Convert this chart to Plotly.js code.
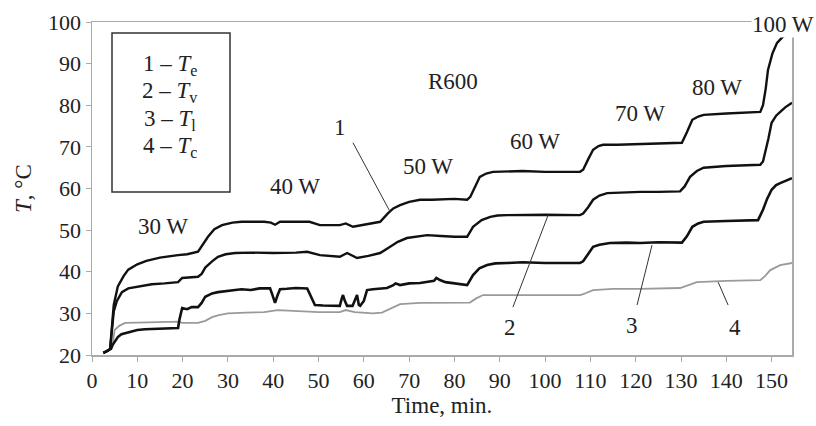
<!DOCTYPE html>
<html>
<head>
<meta charset="utf-8">
<script src="https://cdn.plot.ly/plotly-3.0.1.min.js"></script>
<style>html,body{margin:0;padding:0;background:#fff;}#chart{width:816px;height:426px;}</style>
</head>
<body>
<div id="chart"></div>
<script>
// Curve 1 – Te
const t1x = [2.5, 3.5, 4.0, 4.4, 4.8, 5.7, 7, 8, 10, 12, 15, 19, 21, 23.4, 24.5, 25.6, 27, 28.7, 31, 33, 38, 39.5, 40.4, 41.5, 45, 48, 50.3, 54.7, 56, 57.6, 60, 63.6, 65.3, 66.5, 68, 70, 72.4, 75, 80, 82.8, 83.5, 84.5, 85.6, 87, 88.5, 95, 100, 107.7, 108.4, 109.5, 110.6, 111.8, 112.8, 116, 121, 125, 130.2, 131.3, 132.5, 133.8, 135, 140, 147.5, 148.1, 148.7, 149.2, 150.2, 151.2, 152.5, 154, 154.5];
const t1y = [20.5, 21, 21.5, 27, 32, 36.5, 39, 40.5, 41.8, 42.6, 43.4, 44, 44.2, 44.8, 46.5, 48.4, 50.2, 51.2, 51.8, 52, 52, 51.8, 51.3, 52, 52, 52, 51.2, 51.2, 51.6, 50.8, 51.3, 52, 54, 55.2, 56, 56.8, 57.3, 57.3, 57.5, 57.3, 58, 60.5, 62.8, 63.6, 64, 64.2, 64, 64, 64.5, 67, 69.3, 70.2, 70.5, 70.5, 70.7, 70.8, 71, 73.5, 76.5, 77.3, 77.7, 78, 78.4, 80, 84, 88.5, 92.5, 95, 96.5, 97.3, 97.5];
// Curve 2 – Tv
const t2x = [2.5, 3.5, 4.0, 4.4, 4.8, 5.5, 6.6, 8, 9.5, 11, 13.2, 16, 19, 19.9, 21, 23.4, 24.2, 25, 26.5, 27.8, 29.5, 31.6, 35, 40, 45, 47.5, 50.3, 54.7, 56.3, 58.5, 61, 63.6, 65.8, 67.5, 69.5, 72, 74, 77, 80, 82.8, 84.1, 86, 87.9, 89.5, 91.6, 100, 107.7, 108.4, 109.5, 110.6, 112, 113.7, 116, 121, 125, 129.8, 130.8, 132, 133.5, 135, 140, 147.5, 148.1, 148.6, 149.3, 150, 151, 151.9, 153, 154.5];
const t2y = [20.5, 21, 21.5, 26, 30.5, 33, 35.1, 36, 36.3, 36.7, 37, 37.2, 37.5, 38.5, 38.6, 38.8, 39.5, 41, 42.5, 43.6, 44.2, 44.5, 44.6, 44.5, 44.6, 44.8, 44, 43.6, 44.5, 43.3, 43.8, 44.5, 46, 47.2, 48.1, 48.5, 48.8, 48.6, 48.4, 48.4, 50.8, 52.4, 53.2, 53.5, 53.6, 53.7, 53.6, 54, 55.5, 57.3, 58.3, 58.9, 59, 59.2, 59.2, 59.3, 60.5, 62.8, 64.2, 65, 65.4, 65.7, 66.5, 68.6, 72, 75.8, 77.5, 78.4, 79.5, 80.6];
// Curve 3 – Tl
const t3x = [2.5, 3.5, 4.2, 4.6, 5.0, 5.7, 6.5, 8, 10, 11.7, 15, 19, 19.3, 19.6, 19.9, 21, 22, 23.4, 24.2, 25, 26.5, 27.8, 29.5, 31.6, 33, 35, 37, 39.3, 39.8, 40.4, 41, 41.5, 43, 45, 47.5, 48.3, 49.2, 51, 53, 54.7, 55.1, 55.4, 55.8, 56.3, 57.5, 58.2, 58.5, 58.9, 59.2, 60, 60.7, 62, 63.5, 65.1, 66.4, 67, 68, 70, 72.4, 74, 75.5, 76, 76.8, 78, 80, 82.8, 84.1, 85.5, 87.2, 89, 91.6, 95, 100, 105, 107.7, 108.4, 109.5, 110.6, 112, 114.3, 118, 121, 125, 130.2, 131.3, 132.5, 133.8, 135, 140, 145, 147, 148.1, 149, 150, 151, 151.9, 153, 154.5];
const t3y = [20.5, 21, 21.5, 22.5, 23.2, 24.3, 25, 25.5, 26, 26.2, 26.4, 26.5, 28.5, 30, 31.3, 31, 31.5, 31.5, 32.5, 34, 34.8, 35.1, 35.4, 35.6, 35.8, 35.6, 36, 36, 34.5, 32.5, 34.5, 35.8, 35.9, 36.1, 36, 34, 32, 31.9, 31.8, 31.8, 33.5, 34.4, 33, 31.8, 31.8, 33.5, 34.4, 32, 31.8, 33, 35.6, 35.8, 36, 36.1, 36.7, 37.2, 36.8, 37.2, 37.3, 37.5, 37.8, 38.5, 38, 37.5, 37.2, 36.8, 39.2, 40.8, 41.6, 42, 42.1, 42.3, 42.1, 42.2, 42.1, 42.5, 44.2, 46, 46.5, 46.9, 47, 46.9, 47.1, 47, 48.5, 50.8, 51.6, 52, 52.2, 52.4, 52.4, 54.9, 57.5, 59.7, 60.8, 61.3, 61.8, 62.5];
// Curve 4 – Tc
const t4x = [2.5, 3.5, 4.2, 4.6, 5.0, 6, 7.3, 10, 13.2, 19, 19.9, 23.4, 25, 26.5, 28, 30, 34, 38, 41, 45, 50, 54.7, 56, 58, 60, 62, 64, 66.4, 68, 72.4, 78, 83.4, 84.8, 86.3, 95, 107.7, 108.4, 109.5, 110.6, 115, 121, 129.8, 131.5, 133.5, 140, 147.5, 148.6, 149.7, 151.9, 154.5];
const t4y = [20.5, 21, 21.5, 23, 26, 27, 27.7, 27.8, 27.9, 28, 27.7, 27.7, 28.2, 29.1, 29.6, 30, 30.2, 30.3, 30.8, 30.5, 30.3, 30.3, 30.8, 30.3, 30.2, 30, 30.2, 31.5, 32.2, 32.5, 32.6, 32.6, 33.6, 34.4, 34.4, 34.4, 34.6, 35.2, 35.6, 35.9, 35.9, 36.1, 36.8, 37.5, 37.8, 38, 39, 40.4, 41.6, 42.1];

const legendLines = ["1 – <i>T</i><sub>e</sub>", "2 – <i>T</i><sub>v</sub>", "3 – <i>T</i><sub>l</sub>", "4 – <i>T</i><sub>c</sub>"];
const powerLabels = ["30 W", "40 W", "50 W", "60 W", "70 W", "80 W", "100 W"];
const powerX = [15.7, 44.8, 74.2, 97.8, 121, 138, 152.5];
const powerY = [50.8, 60.4, 65.2, 71.2, 77.9, 84.2, 99.5];
const curveIds = ["1", "2", "3", "4"];
const curveLabelX = [54.7, 92.3, 119.2, 141.9];
const curveLabelY = [74.6, 26.5, 27.2, 26.7];
const leaderX0 = [57.6, 92.9, 120.3, 140.4];
const leaderY0 = [71, 31.5, 32, 32];
const leaderX1 = [65.8, 100.7, 123.6, 138.2];
const leaderY1 = [54.4, 53.7, 46.4, 37.5];

const FONT = "'Liberation Serif', 'Times New Roman', serif";
const TXT = "#222";
const traces = [
  {x: t4x, y: t4y, mode: "lines", line: {color: "#9a9a9a", width: 1.8}},
  {x: t3x, y: t3y, mode: "lines", line: {color: "#111", width: 2.6}},
  {x: t2x, y: t2y, mode: "lines", line: {color: "#111", width: 2.4}},
  {x: t1x, y: t1y, mode: "lines", line: {color: "#111", width: 2.4}}
];

const annotations = [];
powerLabels.forEach((t, i) => {
  const a = {x: powerX[i], y: powerY[i], xref: "x", yref: "y", text: t, showarrow: false,
    xanchor: "center", yanchor: "middle", font: {family: FONT, size: 23, color: TXT}};
  if (t === "100 W") { a.bgcolor = "#fff"; a.borderpad = 0; }
  annotations.push(a);
});
annotations.push({x: 79.7, y: 85.6, xref: "x", yref: "y", text: "R600", showarrow: false,
  xanchor: "center", yanchor: "middle", font: {family: FONT, size: 23, color: TXT}});
curveIds.forEach((t, i) => {
  annotations.push({x: curveLabelX[i], y: curveLabelY[i], xref: "x", yref: "y", text: t, showarrow: false,
    xanchor: "center", yanchor: "middle", font: {family: FONT, size: 23, color: TXT}});
});
const legendPx = [65, 92, 120, 147];
legendLines.forEach((t, i) => {
  annotations.push({x: (170 - 92) / 700, y: (355 - legendPx[i]) / 333, xref: "paper", yref: "paper",
    text: t, showarrow: false, xanchor: "center", yanchor: "middle",
    font: {family: FONT, size: 23, color: TXT}});
});

const shapes = [
  {type: "rect", xref: "paper", yref: "paper", x0: (112 - 92) / 700, x1: (230 - 92) / 700,
   y0: (355 - 192) / 333, y1: (355 - 33) / 333, line: {color: "#333", width: 1.5}}
];
curveIds.forEach((t, i) => {
  shapes.push({type: "line", xref: "x", yref: "y", x0: leaderX0[i], y0: leaderY0[i], x1: leaderX1[i], y1: leaderY1[i],
    line: {color: "#333", width: 1}});
});

const layout = {
  width: 816, height: 426,
  margin: {l: 92, r: 24, t: 22, b: 71},
  paper_bgcolor: "#fff", plot_bgcolor: "#fff",
  showlegend: false,
  font: {family: FONT, size: 22, color: TXT},
  xaxis: {
    range: [0, 154.5], dtick: 10, tick0: 0, showgrid: false, zeroline: false,
    showline: true, linecolor: "#aaa", linewidth: 1.5, mirror: true,
    ticks: "outside", ticklen: 5, tickcolor: "#aaa",
    tickfont: {family: FONT, size: 22, color: TXT},
    title: {text: "Time, min.", font: {family: FONT, size: 23, color: TXT}, standoff: 4}
  },
  yaxis: {
    range: [20, 100], dtick: 10, tick0: 20, showgrid: false, zeroline: false,
    showline: true, linecolor: "#aaa", linewidth: 1.5, mirror: true,
    ticks: "outside", ticklen: 5, tickcolor: "#aaa",
    tickfont: {family: FONT, size: 22, color: TXT},
    title: {text: "<i>T</i>, °C", font: {family: FONT, size: 23, color: TXT}, standoff: 10}
  },
  annotations: annotations,
  shapes: shapes
};

Plotly.newPlot("chart", traces, layout, {displayModeBar: false, staticPlot: true});
</script>
</body>
</html>
